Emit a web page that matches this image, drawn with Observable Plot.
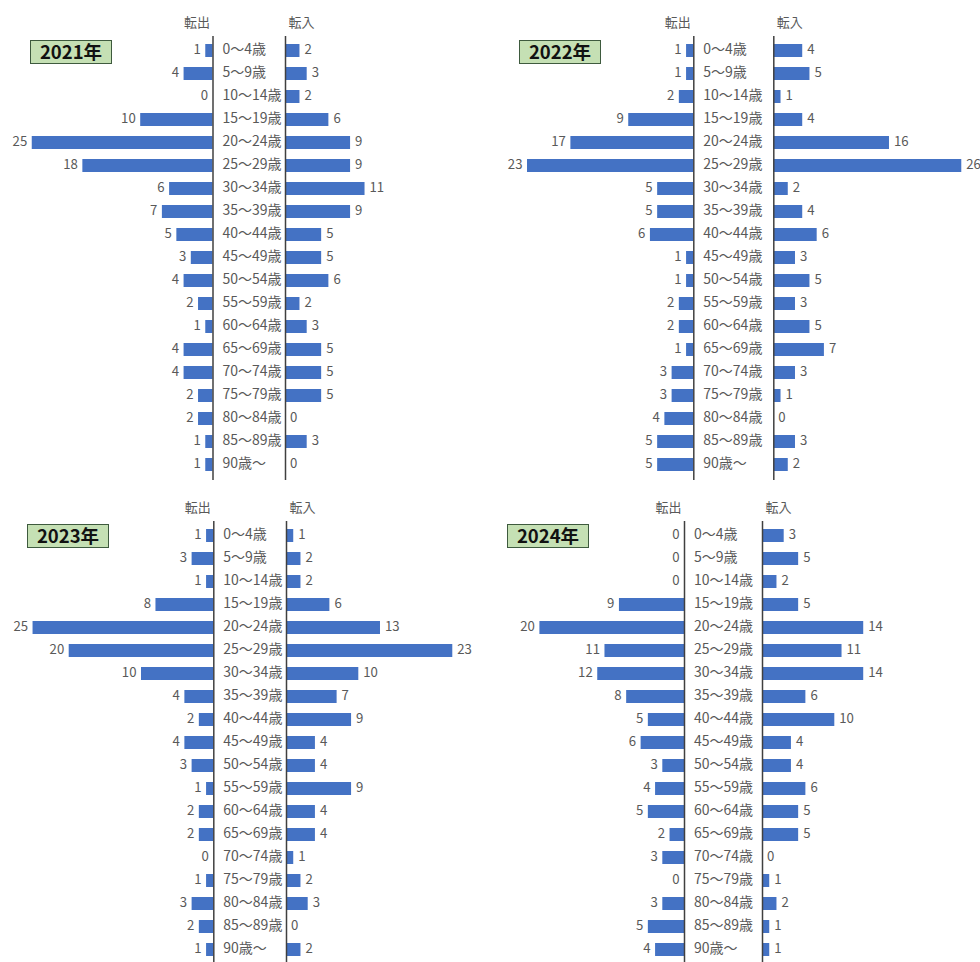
<!DOCTYPE html>
<html><head><meta charset="utf-8">
<script src="https://cdn.jsdelivr.net/npm/d3@7"></script>
<script src="https://cdn.jsdelivr.net/npm/@observablehq/plot@0.6"></script>
<style>
body{margin:0;background:#fff;font-family:"Noto Sans CJK JP","Noto Sans",sans-serif;}
#root{position:relative;width:980px;height:962px;overflow:hidden;}
.panel{position:absolute;width:490px;height:481px;}
.panel svg{position:absolute;left:0;top:0;overflow:visible;}
.year{position:absolute;box-sizing:border-box;width:82px;height:24px;background:#c5e0b4;border:1.5px solid #3e5a3e;font-weight:bold;font-size:18.5px;line-height:21px;text-align:center;color:#111;font-family:"Noto Sans CJK JP",sans-serif;}
</style></head>
<body><div id="root"></div>
<script>
const ageGroups = ["0～4歳","5～9歳","10～14歳","15～19歳","20～24歳","25～29歳","30～34歳","35～39歳","40～44歳","45～49歳","50～54歳","55～59歳","60～64歳","65～69歳","70～74歳","75～79歳","80～84歳","85～89歳","90歳～"];
const years = ["2021年","2022年","2023年","2024年"];
const sideLabels = ["転出","転入"];

const out2021 = [1,4,0,10,25,18,6,7,5,3,4,2,1,4,4,2,2,1,1];
const in2021  = [2,3,2,6,9,9,11,9,5,5,6,2,3,5,5,5,0,3,0];
const out2022 = [1,1,2,9,17,23,5,5,6,1,1,2,2,1,3,3,4,5,5];
const in2022  = [4,5,1,4,16,26,2,4,6,3,5,3,5,7,3,1,0,3,2];
const out2023 = [1,3,1,8,25,20,10,4,2,4,3,1,2,2,0,1,3,2,1];
const in2023  = [1,2,2,6,13,23,10,7,9,4,4,9,4,4,1,2,3,0,2];
const out2024 = [0,0,0,9,20,11,12,8,5,6,3,4,5,2,3,0,3,5,4];
const in2024  = [3,5,2,5,14,11,14,6,10,4,4,6,5,5,0,1,2,1,1];

const outSeries = [out2021,out2022,out2023,out2024];
const inSeries = [in2021,in2022,in2023,in2024];

// layout (pixels)
const panels = [
  {left:0,   top:0,   axis:212.5, gap:72.5, range:[36.0,479.0], mt:36, mb:1, box:[30,40]},
  {left:490, top:0,   axis:203.3, gap:80,   range:[36.0,479.0], mt:36, mb:1, box:[29,40]},
  {left:0,   top:481, axis:213.3, gap:72.7, range:[39.6,482.3], mt:40, mb:0, box:[27,43]},
  {left:490, top:481, axis:194,   gap:78,   range:[39.6,482.3], mt:40, mb:0, box:[17,43]}
];
const pxPerUnit = 7.23;
const W = 490, H = 481;
const barColor = "#4472c4";
const textColor = "#595959";
const lineColor = "#404040";

const root = document.getElementById("root");
years.forEach((yr, i) => {
  const p = panels[i];
  const rows = ageGroups.map((age, j) => ({age, out: outSeries[i][j], inn: inSeries[i][j]}));
  const div = document.createElement("div");
  div.className = "panel";
  div.style.left = p.left + "px";
  div.style.top = p.top + "px";
  const chart = Plot.plot({
    width: W, height: H,
    marginLeft: 0, marginRight: 0, marginTop: p.mt, marginBottom: p.mb,
    style: {fontFamily: '"Noto Sans CJK JP","Noto Sans",sans-serif', fontSize: "13.5px", background: "transparent", overflow: "visible"},
    x: {type: "linear", domain: [-p.axis / pxPerUnit, (W - p.axis) / pxPerUnit], range: [0, W], axis: null},
    y: {type: "band", domain: ageGroups, range: p.range, paddingInner: 0.44, paddingOuter: 0.22, axis: null},
    marks: [
      Plot.barX(rows, {y: "age", x1: () => 0, x2: d => -d.out, fill: barColor}),
      Plot.barX(rows, {y: "age", x1: () => 0, x2: "inn", dx: p.gap, fill: barColor}),
      Plot.ruleX([0], {stroke: lineColor, strokeWidth: 1.5}),
      Plot.ruleX([0], {stroke: lineColor, strokeWidth: 1.5, dx: p.gap}),
      Plot.text(rows, {y: "age", x: d => -d.out, text: "out", textAnchor: "end", dx: -5, dy: -1, fill: textColor, fontSize: 13.2}),
      Plot.text(rows, {y: "age", x: "inn", text: "inn", textAnchor: "start", dx: p.gap + 4.5, dy: -1, fill: textColor, fontSize: 13.2}),
      Plot.text(rows, {y: "age", x: () => 0, text: "age", textAnchor: "start", dx: 9.5, dy: -1, fill: textColor, fontSize: 14}),
      Plot.text([sideLabels[0]], {x: () => 0, text: d => d, frameAnchor: "top", dx: -16, dy: -19, textAnchor: "middle", fill: textColor, fontSize: 13}),
      Plot.text([sideLabels[1]], {x: () => 0, text: d => d, frameAnchor: "top", dx: p.gap + 16, dy: -19, textAnchor: "middle", fill: textColor, fontSize: 13})
    ]
  });
  div.appendChild(chart);
  const box = document.createElement("div");
  box.className = "year";
  box.textContent = yr;
  box.style.left = p.box[0] + "px";
  box.style.top = p.box[1] + "px";
  div.appendChild(box);
  root.appendChild(div);
});
</script>
</body></html>
